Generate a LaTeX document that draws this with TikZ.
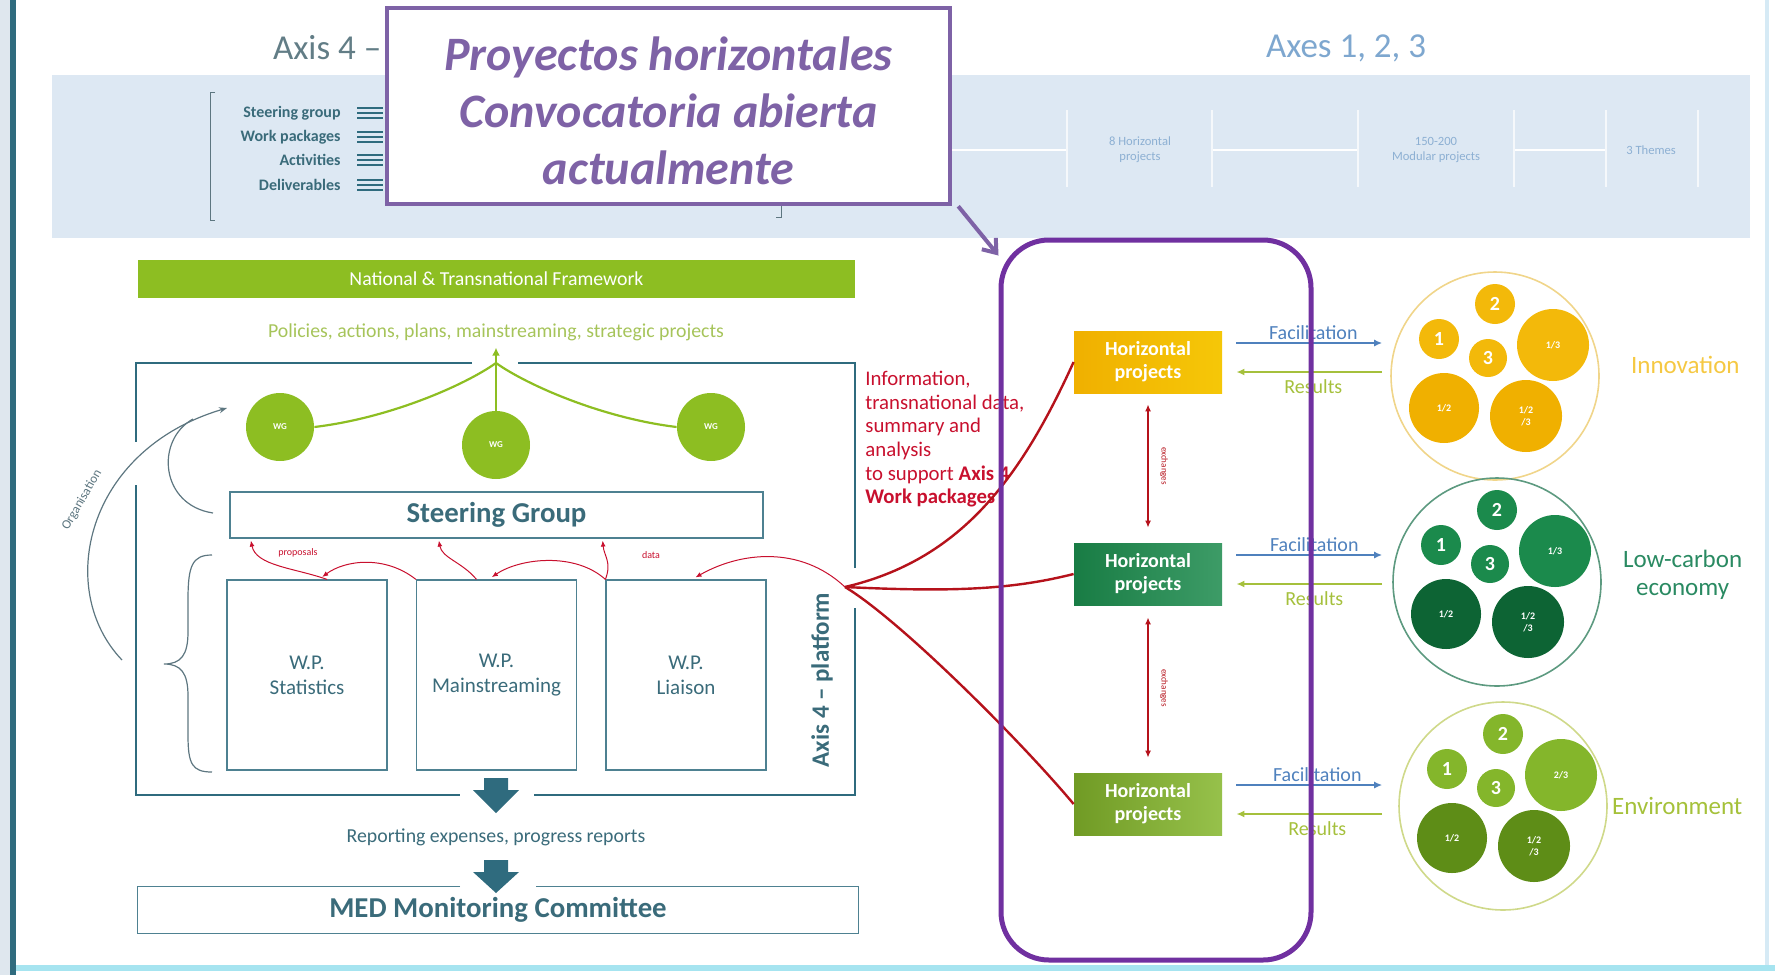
\documentclass[tikz,border=0pt]{standalone}
\usepackage{xcolor}
\usepackage{fontspec}
\setmainfont{Carlito}
\usetikzlibrary{arrows.meta,positioning}

% Colours of the slide
\definecolor{tealdark}{HTML}{2F6B7E}
\definecolor{tealtext}{HTML}{3A6B7A}
\definecolor{pageedge}{HTML}{DFE7EE}
\definecolor{bottomcyan}{HTML}{A6E4F0}
\definecolor{edgeblue}{HTML}{D6EAF5}
\definecolor{bandblue}{HTML}{DDE8F3}
\definecolor{bandtext}{HTML}{8DB0D3}
\definecolor{axisgray}{HTML}{627D86}
\definecolor{axisblue}{HTML}{7EA7CF}
\definecolor{wggreen}{HTML}{8DBE22}
\definecolor{polgreen}{HTML}{A6C45A}
\definecolor{callpurple}{HTML}{7E62A6}
\definecolor{boxpurple}{HTML}{7030A0}
\definecolor{infored}{HTML}{C8102E}
\definecolor{linkred}{HTML}{B5121B}
\definecolor{facblue}{HTML}{4F81BD}
\definecolor{resgreen}{HTML}{A5C03C}
\definecolor{orggray}{HTML}{5D7680}
\definecolor{innolite}{HTML}{F3B90A}
\definecolor{innodark}{HTML}{F0B000}
\definecolor{innoring}{HTML}{F0D58A}
\definecolor{innotext}{HTML}{F5C842}
\definecolor{lowlite}{HTML}{1B8A4C}
\definecolor{lowdark}{HTML}{0D6434}
\definecolor{lowring}{HTML}{5D9A80}
\definecolor{lowtext}{HTML}{2A8A62}
\definecolor{envlite}{HTML}{84B62B}
\definecolor{envdark}{HTML}{5E8D17}
\definecolor{envring}{HTML}{CFD98A}
\definecolor{envtext}{HTML}{A5C13A}

\tikzset{
  axistitle/.style={font=\fontsize{17.5}{19}\selectfont},
  bandlabel/.style={text=tealtext, font=\fontsize{8}{9}\selectfont\bfseries, inner sep=1pt},
  bandnote/.style={text=bandtext, align=center, font=\fontsize{6.3}{7.3}\selectfont},
  bandline/.style={draw=white, line width=1pt},
  icon/.style={draw=tealdark, line width=1.2pt},
  frameline/.style={draw=tealdark, line width=1.2pt},
  thinbox/.style={draw=tealdark!85, line width=0.6pt},
  wpbox/.style={thinbox, minimum width=80pt, minimum height=95pt, align=center,
    text=tealtext, font=\fontsize{10.5}{12.5}\selectfont},
  wgcircle/.style={circle, fill=wggreen, minimum size=34pt, inner sep=0pt,
    text=white, font=\fontsize{4.5}{5}\selectfont\bfseries},
  wgline/.style={draw=wggreen, line width=1.1pt},
  orgline/.style={draw=orggray, line width=0.6pt},
  redwave/.style={draw=infored, line width=0.5pt, -{Latex[length=3pt,width=2.5pt]}},
  tiny/.style={font=\fontsize{5}{6}\selectfont, inner sep=1pt},
  hublink/.style={draw=linkred, line width=1.2pt},
  exch/.style={draw=linkred, line width=0.7pt,
    {Latex[length=3.5pt,width=3pt]}-{Latex[length=3.5pt,width=3pt]}},
  hpbox/.style={minimum width=74pt, minimum height=31pt, align=center,
    text=white, font=\fontsize{10}{11.5}\selectfont\bfseries},
  facil/.style={draw=facblue, line width=1.2pt, -{Latex[length=4pt,width=3.5pt]}},
  result/.style={draw=resgreen, line width=1.2pt, -{Latex[length=4pt,width=3.5pt]}},
  arrowlabel/.style={font=\fontsize{10}{11}\selectfont, inner sep=1pt},
  theme/.style={circle, minimum size=104pt, inner sep=0pt, line width=0.8pt},
  smallc/.style={circle, inner sep=0pt, text=white, align=center},
  themetext/.style={align=center, font=\fontsize{12.5}{14}\selectfont},
}

\begin{document}
\begin{tikzpicture}[x=0.5pt,y=-0.5pt]
\useasboundingbox (0,0) rectangle (1775,975);

% Slide edges
\fill[pageedge] (0,0) rectangle (10,975);
\fill[tealdark] (10,0) rectangle (16,975);
\fill[bottomcyan] (16,965) rectangle (1775,971);
\fill[edgeblue] (1765,0) rectangle (1769,965);

% Axis titles
\node[axistitle, text=axisgray, anchor=west] (axis4) at (266,48) {Axis 4 --};
\node[axistitle, text=axisblue] (axes) at (1346,48) {Axes 1, 2, 3};

% Light blue band
\fill[bandblue] (52,75) rectangle (1750,238);
\draw[orggray, line width=0.5pt] (215,92) -- (210,92) -- (210,220) -- (215,220);
\draw[orggray, line width=0.5pt] (781,205) -- (781,217) -- (776,217);
\foreach \y/\lab in {113/Steering group,137/Work packages,160/Activities,185/Deliverables} {
  \node[bandlabel, anchor=east] (bl\y) at (343,\y) {\lab};
  \foreach \k in {-5,0,5}
    \draw[icon] (357,\y+\k) -- (383,\y+\k);
}
\draw[bandline] (950,150) -- (1067,150);
\draw[bandline] (1212,150) -- (1358,150);
\draw[bandline] (1514,150) -- (1606,150);
\foreach \x in {1067,1212,1358,1514,1606,1698}
  \draw[bandline, white!70!bandblue] (\x,110) -- (\x,187);
\node[bandnote] (n8) at (1140,150) {8 Horizontal\\projects};
\node[bandnote] (n150) at (1436,150) {150-200\\Modular projects};
\node[bandnote] (n3) at (1651,150) {3 Themes};

% National framework and policies
\node[fill=wggreen, minimum width=358.5pt, minimum height=19pt, text=white,
  font=\fontsize{9.9}{11}\selectfont] (natfw) at (496.5,279) {National \& Transnational Framework};
\node[text=polgreen, font=\fontsize{9.9}{11}\selectfont] (policies) at (496,332)
  {Policies, actions, plans, mainstreaming, strategic projects};

% Axis 4 frame (with gaps)
\coordinate (hubtop) at (496,363);
\draw[frameline] (472,363) -| (136,442);
\draw[frameline] (136,485) |- (460,795);
\draw[frameline] (534,795) -| (855,608);
\draw[frameline] (855,568) |- (518,363);

% Working groups
\node[wgcircle] (wg1) at (280,427) {WG};
\node[wgcircle] (wg2) at (496,445) {WG};
\node[wgcircle] (wg3) at (711,427) {WG};
\draw[wgline] (wg1.east) .. controls (390,418) and (465,385) .. (hubtop);
\draw[wgline] (wg3.west) .. controls (602,418) and (527,385) .. (hubtop);
\draw[wgline] (wg2.north) -- (hubtop);
\draw[wgline, -{Latex[length=4pt,width=4pt]}] (hubtop) -- (policies.south);

% Steering group and work packages
\node[thinbox, minimum width=266.5pt, minimum height=23pt, text=tealtext,
  font=\fontsize{14.4}{16}\selectfont\bfseries] (sg) at (496.5,515) {Steering Group};
\node[wpbox] (wpstat) at (307,675) {W.P.\\Statistics};
\node[wpbox] (wpmain) at (496.5,675) {W.P.\\Mainstreaming};
\node[wpbox] (wpliai) at (686,675) {W.P.\\Liaison};
\node[rotate=90, text=tealtext, font=\fontsize{12.5}{14}\selectfont\bfseries] (platform)
  at (822,680) {Axis 4 -- platform};

% Brace and organisation arrow
\draw[orgline] (212,555) .. controls (192,555) and (188,566) .. (188,600) -- (188,632)
  .. controls (188,655) and (181,664) .. (164,664)
  .. controls (181,664) and (188,673) .. (188,696) -- (188,735)
  .. controls (188,764) and (192,772) .. (212,772);
\coordinate (orgstart) at (122,660);
\coordinate (orgtip) at (227,408);
\coordinate (orgsg) at (213,513);
\draw[orgline, -{Stealth[length=4pt,width=3pt]}] (orgstart) .. controls (55,590) and (85,450) .. (orgtip);
\draw[orgline] (orgsg) .. controls (160,505) and (155,440) .. (193,419);
\node[rotate=60, text=orggray, font=\fontsize{6.5}{7}\selectfont] (orglab) at (82,500) {Organisation};

% Data flows inside the platform
\coordinate (hub) at (845,587);
\draw[redwave, shorten >=2pt] (hub) .. controls (800,545) and (740,552) .. ([xshift=3pt]wpliai.north);
\draw[redwave, shorten >=1pt] (wpliai.north west) .. controls (612,562) and (604,556) .. ([xshift=53pt]sg.south);
\draw[redwave, shorten >=2pt] (wpliai.north west) .. controls (575,552) and (520,558) .. ([xshift=-4pt]wpmain.north);
\draw[redwave, shorten >=1pt] ([xshift=-10pt]wpmain.north) .. controls (462,562) and (442,558) .. ([xshift=-29pt]sg.south);
\draw[redwave, shorten >=2pt] (wpmain.north west) .. controls (385,555) and (345,560) .. ([xshift=6pt]wpstat.north);
\draw[redwave, shorten >=1pt] ([xshift=10pt]wpstat.north) .. controls (295,568) and (256,566) .. ([xshift=-123pt]sg.south);
\node[tiny, text=infored] (prop) at (298,553) {proposals};
\node[tiny, text=infored] (data) at (651,555) {data};

% Reporting
\foreach \y/\h in {778/35,860/33} {
  \fill[tealdark] (484,\y) -- (508,\y) -- (508,\y+12) -- (519,\y+12) -- (496,\y+\h)
    -- (473,\y+12) -- (484,\y+12) -- cycle;
}
\node[text=tealtext, font=\fontsize{9.9}{11}\selectfont] (report) at (496,837)
  {Reporting expenses, progress reports};
\node[minimum width=360pt, minimum height=23pt, text=tealtext,
  font=\fontsize{14.4}{16}\selectfont\bfseries] (med) at (498,910) {MED Monitoring Committee};
\draw[thinbox] ([xshift=-19pt]med.north) -| (med.south west) -- (med.south east)
  |- ([xshift=19pt]med.north);

% Information text
\node[anchor=north west, align=left, inner sep=0pt, text=infored,
  font=\fontsize{10.4}{11.8}\selectfont] (info) at (865,371)
  {Information,\\transnational data,\\summary and\\analysis\\to support \textbf{Axis 4}\\\textbf{Work packages}};

% Themes with their modular projects
\foreach \tname/\cx/\cy/\ring/\lite/\dark/\bigtxt in
  {inno/1495/376/innoring/innolite/innodark/{1/3},
   lowc/1497/582/lowring/lowlite/lowdark/{1/3},
   envi/1503/806/envring/envlite/envdark/{2/3}} {
  \node[theme, draw=\ring] (\tname) at (\cx,\cy) {};
  \foreach \dx/\dy/\d/\lab in {0/-72/40/2,-56/-37/40/1,-7/-18/38/3}
    \node[smallc, fill=\lite, minimum size=\d*0.5pt,
      font=\fontsize{10}{11}\selectfont\bfseries] (\tname\lab) at ([shift={(\dx,\dy)}]\tname) {\lab};
  \node[smallc, fill=\lite, minimum size=36pt, font=\fontsize{5}{6}\selectfont\bfseries]
    (\tname big) at ([shift={(58,-31)}]\tname) {\bigtxt};
  \node[smallc, fill=\dark, minimum size=35pt, font=\fontsize{5}{6}\selectfont\bfseries]
    (\tname bl) at ([shift={(-51,32)}]\tname) {1/2};
  \node[smallc, fill=\dark, minimum size=36pt, font=\fontsize{5}{6}\selectfont\bfseries]
    (\tname br) at ([shift={(31,40)}]\tname) {1/2\\/3};
}
\node[themetext, text=innotext, anchor=west] (innolab) at (1624,365) {Innovation};
\node[themetext, text=lowtext, anchor=west] (lowclab) at (1616,575) {Low-carbon\\economy};
\node[themetext, text=envtext, anchor=west] (envilab) at (1605,806) {Environment};

% Horizontal projects
\node[hpbox, left color=innodark, right color=innolite!80!yellow] (hp1) at (1148,362) {Horizontal\\projects};
\node[hpbox, left color=lowlite!90!black, right color=lowlite!85!white] (hp2) at (1148,574) {Horizontal\\projects};
\node[hpbox, left color=envlite!85!black, right color=envlite!85!white] (hp3) at (1148,804) {Horizontal\\projects};

\draw[hublink] (hub) .. controls (960,560) and (1020,480) .. (hp1.west);
\draw[hublink] (hub) .. controls (950,592) and (1010,590) .. (hp2.west);
\draw[hublink] (hub) .. controls (900,620) and (1020,740) .. (hp3.west);

\draw[exch, shorten <=5.5pt, shorten >=7.5pt] (hp1.south) -- (hp2.north);
\draw[exch, shorten <=6pt, shorten >=7.5pt] (hp2.south) -- (hp3.north);
\node[tiny, rotate=-90, text=linkred, font=\fontsize{4.5}{5}\selectfont] (ex1) at (1164,466) {exchanges};
\node[tiny, rotate=-90, text=linkred, font=\fontsize{4.5}{5}\selectfont] (ex2) at (1164,688) {exchanges};

\foreach \i/\tname/\gap in {1/inno/4pt,2/lowc/5pt,3/envi/8pt} {
  \draw[facil, shorten >=\gap] ([xshift=7pt,yshift=9.5pt]hp\i.east)
    -- ([yshift=9.5pt]hp\i.east -| \tname.west)
    node[midway, anchor=south, arrowlabel, text=facblue] (fac\i) {Facilitation};
  \draw[result, shorten <=\gap] ([yshift=-5pt]hp\i.east -| \tname.west)
    -- ([xshift=7pt,yshift=-5pt]hp\i.east)
    node[midway, anchor=north, yshift=-2pt, arrowlabel, text=resgreen] (res\i) {Results};
}

% Highlight of the horizontal projects
\node[draw=boxpurple, line width=2.5pt, rounded corners=24pt, minimum width=155pt,
  minimum height=360pt] (focus) at (1156,600) {};
\node[draw=callpurple, line width=2.25pt, fill=white, minimum width=281.5pt,
  minimum height=98pt] (callout) at (668.5,106) {};
\node[align=center, text=callpurple, font=\fontsize{24}{28.5}\selectfont\bfseries\itshape]
  (calltext) at ([yshift=-2.5pt]callout.center) {Proyectos horizontales\\Convocatoria abierta\\actualmente};
\draw[draw=callpurple, line width=2pt, -{Straight Barb[length=6pt,width=9pt]}]
  ([xshift=3pt]callout.south east) -- ([yshift=-9pt]focus.north west);

\end{tikzpicture}
\end{document}
